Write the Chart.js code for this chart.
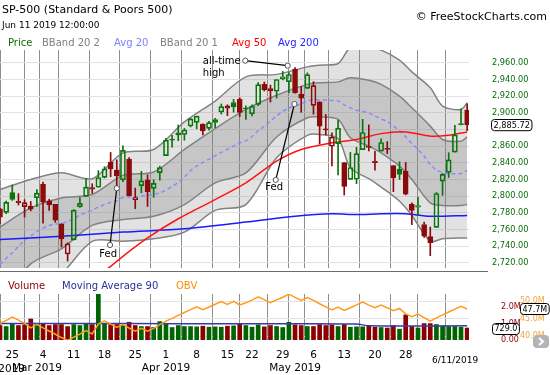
<!DOCTYPE html>
<html>
<head>
<meta charset="utf-8">
<title>SP-500</title>
<script src="https://cdn.jsdelivr.net/npm/chart.js@4.4.1/dist/chart.umd.min.js"></script>
<style>
  html, body { margin: 0; padding: 0; background: #fff; }
  body { position: relative; width: 550px; height: 375px; overflow: hidden; font-family: 'DejaVu Sans', sans-serif; }
  canvas { position: absolute; left: 0; }
  #priceChart { top: 0; }
  #volChart { top: 270px; }
  .txt { position: absolute; white-space: nowrap; line-height: 1; z-index: 2; }
</style>
</head>
<body>
<canvas id="priceChart" width="550" height="272"></canvas>
<canvas id="volChart" width="550" height="105"></canvas>

<div class="txt" style="left:2px; top:4px; font-size:11px; color:#000">SP-500 (Standard &amp; Poors 500)</div>
<div class="txt" style="left:2px; top:21px; font-size:9px; color:#000">Jun 11 2019 12:00:00</div>
<div class="txt" style="right:3px; top:11px; font-size:11px; color:#000">© FreeStockCharts.com</div>

<div class="txt" style="left:8px; top:38px; font-size:10px; color:#0a6e0a">Price</div>
<div class="txt" style="left:42px; top:38px; font-size:10px; color:#808080">BBand 20 2</div>
<div class="txt" style="left:114px; top:38px; font-size:10px; color:#8080ff">Avg 20</div>
<div class="txt" style="left:160px; top:38px; font-size:10px; color:#808080">BBand 20 1</div>
<div class="txt" style="left:232px; top:38px; font-size:10px; color:#ff0000">Avg 50</div>
<div class="txt" style="left:278px; top:38px; font-size:10px; color:#1f1fff">Avg 200</div>

<div class="txt" style="left:8px; top:281px; font-size:10px; color:#8b0000">Volume</div>
<div class="txt" style="left:62px; top:281px; font-size:10px; color:#2e2e9a">Moving Average 90</div>
<div class="txt" style="left:176px; top:281px; font-size:10px; color:#ff8c00">OBV</div>

<script>
// daily bars, Feb 21 2019 .. Jun 11 2019 (index 0 .. 76)
const priorClose = 2784.70;

const open = [
  2785.00, 2780.67, 2804.35, 2792.36, 2787.50, 2788.11, 2798.22, 2814.37, 2794.41, 2790.27,
  2766.53, 2730.79, 2747.61, 2787.34, 2799.78, 2810.38, 2810.79, 2822.61, 2840.76, 2831.34,
  2819.72, 2844.52, 2796.01, 2812.66, 2819.72, 2809.40, 2828.27, 2848.63, 2868.24, 2876.09,
  2873.99, 2884.16, 2888.46, 2886.58, 2881.37, 2891.92, 2900.86, 2908.32, 2912.26, 2916.04,
  2904.81, 2898.78, 2909.99, 2934.00, 2928.99, 2925.81, 2940.58, 2937.14, 2952.33, 2922.16,
  2929.21, 2908.89, 2913.03, 2879.61, 2859.84, 2863.10, 2840.19, 2820.12, 2820.38, 2855.80,
  2858.60, 2841.94, 2854.02, 2856.06, 2836.70, 2832.41, 2830.03, 2790.25, 2786.94, 2766.15,
  2751.53, 2762.64, 2818.09, 2828.51, 2852.87, 2885.83, 2903.27
];
const high = [
  2785.47, 2794.20, 2813.49, 2803.12, 2795.76, 2793.73, 2808.02, 2816.88, 2796.44, 2790.27,
  2767.25, 2744.13, 2784.00, 2798.32, 2821.24, 2815.00, 2830.73, 2835.41, 2852.42, 2843.54,
  2860.31, 2846.16, 2809.79, 2829.87, 2825.56, 2819.71, 2836.03, 2869.40, 2872.90, 2885.25,
  2881.28, 2893.24, 2895.95, 2886.88, 2889.71, 2893.42, 2910.54, 2909.60, 2916.06, 2918.00,
  2908.40, 2909.51, 2936.31, 2936.83, 2933.10, 2939.88, 2949.52, 2948.22, 2954.13, 2931.68,
  2947.85, 2937.32, 2913.03, 2897.96, 2875.97, 2891.31, 2840.19, 2852.54, 2858.68, 2892.15,
  2885.48, 2853.86, 2868.88, 2865.47, 2836.70, 2841.36, 2840.51, 2792.03, 2799.00, 2768.98,
  2763.07, 2804.49, 2827.28, 2852.10, 2884.97, 2904.77, 2910.61
];
const low = [
  2767.00, 2779.11, 2794.99, 2789.47, 2775.13, 2782.51, 2787.38, 2767.66, 2782.97, 2768.69,
  2739.09, 2722.27, 2747.61, 2786.73, 2799.78, 2803.46, 2810.79, 2821.99, 2823.27, 2812.43,
  2817.38, 2800.47, 2785.02, 2803.99, 2787.72, 2798.77, 2819.23, 2848.63, 2858.75, 2866.59,
  2867.14, 2882.99, 2880.78, 2873.33, 2879.13, 2881.99, 2898.37, 2896.48, 2900.71, 2895.45,
  2891.90, 2896.35, 2908.53, 2926.05, 2912.84, 2917.56, 2939.35, 2924.11, 2923.36, 2900.50,
  2929.21, 2898.21, 2862.60, 2873.28, 2836.40, 2825.39, 2801.43, 2820.12, 2815.08, 2855.80,
  2854.23, 2831.29, 2854.02, 2851.11, 2805.49, 2820.19, 2801.58, 2766.06, 2776.74, 2750.52,
  2728.81, 2762.64, 2800.92, 2822.45, 2852.87, 2885.51, 2878.53
];
const close = [
  2774.88, 2792.67, 2796.11, 2793.90, 2792.38, 2784.49, 2803.69, 2792.81, 2789.65, 2771.45,
  2748.93, 2743.07, 2783.30, 2791.52, 2810.92, 2808.48, 2822.48, 2832.94, 2832.57, 2824.23,
  2854.88, 2800.71, 2798.36, 2818.46, 2805.37, 2815.44, 2834.40, 2867.19, 2867.24, 2873.40,
  2879.39, 2892.74, 2895.77, 2878.20, 2888.21, 2888.32, 2907.41, 2905.58, 2907.06, 2900.45,
  2905.03, 2907.97, 2933.68, 2927.25, 2926.17, 2939.88, 2943.03, 2945.83, 2923.73, 2917.52,
  2945.64, 2932.47, 2884.05, 2879.42, 2870.72, 2881.40, 2811.87, 2834.41, 2850.96, 2876.32,
  2859.53, 2840.23, 2864.36, 2856.27, 2822.24, 2826.06, 2802.39, 2783.02, 2788.86, 2752.06,
  2744.45, 2803.27, 2826.15, 2843.49, 2873.34, 2886.73, 2885.72
];

// volume in millions, OBV in millions
const volume = [
  0.88, 0.82, 0.98, 0.88, 0.92, 1.28, 0.98, 0.98, 0.88, 0.94,
  0.94, 0.82, 0.94, 0.88, 0.98, 0.94, 2.78, 0.98, 0.94, 0.94,
  0.88, 1.08, 0.88, 0.82, 0.82, 0.76, 1.12, 0.98, 0.76, 0.88,
  0.82, 0.82, 0.80, 0.84, 0.78, 0.80, 0.78, 0.84, 0.86, 0.98,
  0.88, 0.78, 0.92, 0.80, 0.88, 0.82, 0.76, 1.08, 0.92, 0.88,
  0.82, 0.82, 0.94, 0.88, 0.92, 0.82, 0.94, 0.78, 0.80, 0.80,
  0.84, 0.78, 0.76, 0.73, 0.88, 0.66, 1.53, 0.82, 0.73, 1.00,
  1.00, 0.94, 0.85, 0.82, 0.82, 0.78, 0.729
];
const obv = [
  43.60, 44.42, 45.40, 44.52, 43.60, 42.32, 43.30, 42.32, 41.44, 40.50,
  39.56, 38.74, 39.68, 40.56, 41.54, 40.60, 43.38, 44.36, 43.42, 42.48,
  43.36, 42.28, 41.40, 42.22, 41.40, 42.16, 43.28, 44.26, 45.02, 45.90,
  46.72, 47.54, 48.34, 47.50, 48.28, 49.08, 49.86, 49.02, 49.88, 48.90,
  49.48, 50.26, 51.18, 50.38, 49.50, 50.32, 51.08, 51.96, 51.04, 50.16,
  50.98, 50.16, 49.22, 48.34, 47.42, 48.24, 47.30, 48.08, 48.88, 49.68,
  48.84, 48.06, 48.82, 48.09, 47.21, 47.87, 46.34, 45.52, 46.25, 45.25,
  44.25, 45.19, 46.04, 46.86, 47.68, 48.46, 47.73
];

const ma20 = [
  2718.1, 2725.7, 2732.2, 2739.7, 2747.3, 2752.5, 2757.5, 2761.8, 2765.0, 2766.7,
  2767.5, 2769.4, 2773.1, 2777.2, 2780.5, 2783.3, 2787.1, 2789.9, 2792.6, 2794.5,
  2798.5, 2798.9, 2799.0, 2800.2, 2800.9, 2802.4, 2803.9, 2807.6, 2811.5, 2816.6,
  2823.1, 2830.6, 2836.2, 2840.5, 2844.4, 2848.4, 2852.6, 2856.3, 2860.0, 2863.8,
  2866.3, 2871.6, 2878.4, 2883.9, 2889.9, 2896.2, 2901.6, 2905.6, 2908.4, 2910.7,
  2914.0, 2916.0, 2915.4, 2915.4, 2914.6, 2914.2, 2909.5, 2905.9, 2903.1, 2901.9,
  2899.6, 2896.2, 2892.7, 2889.2, 2884.0, 2878.3, 2871.2, 2863.1, 2856.3, 2848.0,
  2837.9, 2831.5, 2828.6, 2826.8, 2826.9, 2827.2, 2830.9
];

// Bollinger bands read at selected bars
const bandIdx  = [0, 5, 10, 15, 20, 25, 30, 35, 40, 45, 50, 52, 55, 57, 60, 62, 65, 67, 70, 72, 75, 76];
const bb2Upper = [2808, 2820, 2828, 2821, 2852, 2856, 2889, 2914, 2943, 2946, 2955, 2957, 2959, 2978, 2978, 2975, 2963, 2949, 2930, 2908, 2904, 2912];
const bb1Upper = [2763, 2786, 2798, 2802, 2825, 2829, 2856, 2881, 2904, 2921, 2934, 2936, 2937, 2942, 2939, 2934, 2920, 2906, 2884, 2868, 2866, 2871];
const bb1Lower = [2673, 2719, 2737, 2765, 2772, 2776, 2790, 2816, 2828, 2871, 2894, 2895, 2892, 2870, 2860, 2852, 2836, 2820, 2792, 2789, 2789, 2790];
const bb2Lower = [2628, 2685, 2707, 2746, 2746, 2749, 2757, 2783, 2790, 2846, 2873, 2874, 2869, 2834, 2821, 2811, 2794, 2777, 2746, 2749, 2750, 2750];

const ma50Idx = [0, 10, 15, 18, 20, 24, 29, 35, 40, 45, 49, 54, 58, 62, 66, 70, 73, 76];
const ma50    = [2625, 2672, 2700, 2716, 2728, 2750, 2773, 2796, 2816, 2842, 2856, 2864, 2868, 2875, 2877, 2872, 2873, 2877];

const ma200Idx = [0, 10, 20, 30, 40, 48, 54, 58, 62, 66, 70, 76];
const ma200    = [2748, 2752, 2757, 2761, 2769, 2776, 2779, 2778, 2779, 2779, 2776, 2777];

const volAvgIdx = [0, 20, 40, 58, 60, 76];
const volAvg    = [1.00, 1.00, 0.99, 0.98, 0.86, 0.86];

// axis ticks
const tickIdx   = [2, 6, 7, 12, 17, 22, 27, 32, 37, 41, 46, 48, 51, 56, 61, 66, 70, 75];
const tickDay   = ['25', '', '4', '11', '18', '25', '1', '8', '15', '22', '29', '', '6', '13', '20', '28', '', ''];
const tickMonth = ['', 'Mar 2019', '', '', '', '', 'Apr 2019', '', '', '', '', 'May 2019', '', '', '', '', '', ''];
const priceTicks = [2720, 2740, 2760, 2780, 2800, 2820, 2840, 2860, 2880, 2900, 2920, 2940, 2960];
const volTicks = [0, 1, 2];
const obvTicks = [40, 45, 50];

// notes: [bar index, price]
const noteLines = [
  { from: [39.9, 2962.4], to: [46.8, 2956.4] },
  { from: [17.9, 2741.6], to: [19.0, 2809.5] },
  { from: [44.86, 2819.5], to: [47.9, 2910.5] }
];
const noteTexts = [
  { at: [33.0, 2962.0], text: 'all-time', align: 'left' },
  { at: [33.0, 2947.3], text: 'high', align: 'left' },
  { at: [17.6, 2730.8], text: 'Fed', align: 'center' },
  { at: [44.6, 2811.1], text: 'Fed', align: 'center' }
];

Chart.defaults.font.family = 'DejaVu Sans';

const GREEN = '#0b740b';
const RED = '#8b0a0a';
const dayIdx = close.map((_, i) => i);
const pts = (idx, vals) => idx.map((x, i) => ({ x: x, y: vals[i] }));
const candleColor = close.map((c, i) => c >= (i ? close[i - 1] : priorClose) ? GREEN : RED);
const bodyFill = close.map((c, i) => c > open[i] ? 'rgba(0,0,0,0)' : candleColor[i]);
const last = close.length - 1;

function fmtPrice(v) {
  return v.toLocaleString('en-US', { minimumFractionDigits: 2, maximumFractionDigits: 2 });
}

// right axes: fixed width, no extra layout padding from the label gap
function fixWidth(w) {
  return s => { s.width = w; s.paddingTop = 0; s.paddingBottom = 0; };
}

function drawTag(ctx, left, cy, text, size) {
  ctx.save();
  ctx.font = size + 'px "DejaVu Sans"';
  const w = ctx.measureText(text).width + 4;
  const h = size + 3;
  ctx.beginPath();
  ctx.roundRect(left + 0.5, Math.round(cy - h / 2) + 0.5, w, h, 3);
  ctx.fillStyle = '#fff';
  ctx.fill();
  ctx.strokeStyle = '#000';
  ctx.lineWidth = 1;
  ctx.stroke();
  ctx.fillStyle = '#000';
  ctx.textBaseline = 'middle';
  ctx.textAlign = 'left';
  ctx.fillText(text, left + 2.5, Math.round(cy) + 1);
  ctx.restore();
}

const annotate = {
  id: 'annotate',
  afterDatasetsDraw(chart) {
    const { ctx, scales: { x, y } } = chart;
    ctx.save();
    noteLines.forEach(n => {
      const a = [x.getPixelForValue(n.from[0]), y.getPixelForValue(n.from[1])];
      const b = [x.getPixelForValue(n.to[0]), y.getPixelForValue(n.to[1])];
      ctx.beginPath();
      ctx.moveTo(a[0], a[1]);
      ctx.lineTo(b[0], b[1]);
      ctx.strokeStyle = '#000';
      ctx.lineWidth = 1.2;
      ctx.stroke();
      [a, b].forEach(p => {
        ctx.beginPath();
        ctx.arc(p[0], p[1], 2.6, 0, Math.PI * 2);
        ctx.fillStyle = '#fff';
        ctx.fill();
        ctx.strokeStyle = '#555';
        ctx.lineWidth = 1;
        ctx.stroke();
      });
    });
    ctx.font = '10px "DejaVu Sans"';
    ctx.fillStyle = '#000';
    ctx.textBaseline = 'middle';
    noteTexts.forEach(t => {
      ctx.textAlign = t.align;
      ctx.fillText(t.text, x.getPixelForValue(t.at[0]), y.getPixelForValue(t.at[1]));
    });
    ctx.restore();
  },
  afterDraw(chart) {
    const yS = chart.scales.y;
    drawTag(chart.ctx, yS.left + 22, yS.getPixelForValue(close[last]), fmtPrice(close[last]), 8.2);
  }
};

const bandLine = {
  type: 'line', borderColor: '#828282', borderWidth: 1.5, pointRadius: 0, tension: 0.3
};

new Chart(document.getElementById('priceChart'), {
  type: 'bar',
  data: {
    datasets: [
      Object.assign({}, bandLine, { data: pts(bandIdx, bb2Upper), fill: 3, backgroundColor: 'rgba(135,135,135,0.24)', order: 10 }),
      Object.assign({}, bandLine, { data: pts(bandIdx, bb1Upper), fill: 2, backgroundColor: 'rgba(120,120,120,0.26)', order: 9 }),
      Object.assign({}, bandLine, { data: pts(bandIdx, bb1Lower), fill: false, order: 9 }),
      Object.assign({}, bandLine, { data: pts(bandIdx, bb2Lower), fill: false, order: 10 }),
      { type: 'line', data: pts(dayIdx, ma20), borderColor: '#8a8aff', borderWidth: 1.5, borderDash: [4, 3], pointRadius: 0, tension: 0.3, order: 6 },
      { type: 'line', data: pts(ma50Idx, ma50), borderColor: '#ff1414', borderWidth: 1.5, pointRadius: 0, tension: 0.3, order: 5 },
      { type: 'line', data: pts(ma200Idx, ma200), borderColor: '#1a1aff', borderWidth: 1.5, pointRadius: 0, tension: 0.3, order: 5 },
      {
        type: 'bar', data: dayIdx.map(i => ({ x: i, y: [Math.max(open[i], close[i]), high[i]] })),
        backgroundColor: candleColor, barThickness: 1, grouped: false, order: 2
      },
      {
        type: 'bar', data: dayIdx.map(i => ({ x: i, y: [low[i], Math.min(open[i], close[i])] })),
        backgroundColor: candleColor, barThickness: 1, grouped: false, order: 2
      },
      {
        type: 'bar', data: dayIdx.map(i => ({ x: i, y: [open[i], close[i]] })),
        backgroundColor: bodyFill, borderColor: candleColor, borderWidth: 1, borderSkipped: false,
        barThickness: 5, minBarLength: 1, grouped: false, order: 1
      }
    ]
  },
  options: {
    responsive: false,
    animation: false,
    events: [],
    layout: { padding: { top: 50, bottom: 4, left: 0, right: 0 } },
    plugins: {
      legend: { display: false },
      tooltip: { enabled: false },
      filler: { drawTime: 'beforeDatasetsDraw' }
    },
    scales: {
      x: {
        type: 'linear', min: 0, max: 76.3, offset: false,
        afterBuildTicks: s => { s.ticks = tickIdx.map(v => ({ value: v })); },
        afterFit: s => { s.height = 0; },
        ticks: { display: false },
        grid: { color: '#8e8e8e', drawTicks: false },
        border: { display: false }
      },
      y: {
        position: 'right', min: 2714, max: 2975.2,
        afterBuildTicks: s => { s.ticks = priceTicks.map(v => ({ value: v })); },
        afterFit: fixWidth(81),
        ticks: {
          padding: 23, color: '#0a6e0a', font: { size: 8.2 },
          callback: v => Math.abs(v - close[last]) < 8 ? '' : fmtPrice(v)
        },
        grid: { color: '#e2e2e2', drawTicks: false },
        border: { display: false }
      }
    }
  },
  plugins: [annotate]
});

const volExtras = {
  id: 'volExtras',
  afterDraw(chart) {
    const { ctx, chartArea, scales } = chart;
    ctx.save();
    ctx.beginPath();
    ctx.moveTo(0, 1.5);
    ctx.lineTo(488, 1.5);
    ctx.strokeStyle = '#6a6a6a';
    ctx.lineWidth = 1;
    ctx.stroke();

    ctx.fillStyle = '#000';
    ctx.textBaseline = 'middle';
    ctx.font = '10.5px "DejaVu Sans"';
    ctx.textAlign = 'right';
    ctx.fillText('Feb 2019', 25, chartArea.bottom + 29);
    ctx.font = '9px "DejaVu Sans"';
    ctx.textAlign = 'center';
    ctx.fillText('6/11/2019', scales.x.getPixelForValue(last) - 12, chartArea.bottom + 21);

    // scroll arrow
    ctx.beginPath();
    ctx.roundRect(533, 65, 16, 13, 4);
    ctx.fillStyle = '#b4b4b4';
    ctx.fill();
    ctx.beginPath();
    ctx.moveTo(539, 68);
    ctx.lineTo(543, 71.5);
    ctx.lineTo(539, 75);
    ctx.strokeStyle = '#fff';
    ctx.lineWidth = 2;
    ctx.stroke();
    ctx.restore();

    drawTag(ctx, scales.yVol.left + 23, scales.yVol.getPixelForValue(volume[last]), (volume[last] * 1000).toFixed(1), 8);
    drawTag(ctx, scales.yObv.left, scales.yObv.getPixelForValue(obv[last]), obv[last].toFixed(1) + 'M', 8);
  }
};

new Chart(document.getElementById('volChart'), {
  type: 'bar',
  data: {
    datasets: [
      { type: 'line', data: pts(dayIdx, obv), yAxisID: 'yObv', borderColor: '#ff9c1c', borderWidth: 1.5, pointRadius: 0, tension: 0, order: 1 },
      { type: 'line', data: pts(volAvgIdx, volAvg), yAxisID: 'yVol', borderColor: '#3a3aa6', borderWidth: 1.5, pointRadius: 0, tension: 0.3, order: 2 },
      {
        type: 'bar', data: dayIdx.map(i => ({ x: i, y: volume[i] })), yAxisID: 'yVol',
        backgroundColor: candleColor.map(c => c === GREEN ? '#006400' : '#8b0000'),
        barThickness: 4, grouped: false, order: 3
      }
    ]
  },
  options: {
    responsive: false,
    animation: false,
    events: [],
    layout: { padding: { top: 24, bottom: 0, left: 0, right: 0 } },
    plugins: { legend: { display: false }, tooltip: { enabled: false } },
    scales: {
      x: {
        type: 'linear', min: 0, max: 76.3, offset: false,
        afterBuildTicks: s => { s.ticks = tickIdx.map(v => ({ value: v })); },
        afterFit: s => { s.height = 35; s.paddingLeft = 0; s.paddingRight = 0; },
        ticks: {
          autoSkip: false, maxRotation: 0, minRotation: 0, padding: 8, color: '#000',
          font: { size: 10.5, lineHeight: 1.3 },
          callback: (v, i) => [tickDay[i], tickMonth[i]]
        },
        grid: { color: '#8e8e8e', drawTicks: false },
        border: { display: false }
      },
      yVol: {
        position: 'right', weight: 1, min: 0, max: 2.8,
        afterBuildTicks: s => { s.ticks = volTicks.map(v => ({ value: v })); },
        afterFit: fixWidth(51),
        ticks: {
          padding: 24, color: '#8b0000', font: { size: 8 },
          callback: v => v === 0 ? '0.00' : v.toFixed(1) + 'M'
        },
        grid: { display: false },
        border: { display: false }
      },
      yObv: {
        position: 'right', weight: 2, min: 38.86, max: 52,
        afterBuildTicks: s => { s.ticks = obvTicks.map(v => ({ value: v })); },
        afterFit: fixWidth(30),
        ticks: {
          padding: 0, color: '#f5a33a', font: { size: 8 },
          callback: v => v.toFixed(1) + 'M'
        },
        grid: { color: '#e2e2e2', drawTicks: false },
        border: { display: false }
      }
    }
  },
  plugins: [volExtras]
});
</script>
</body>
</html>
